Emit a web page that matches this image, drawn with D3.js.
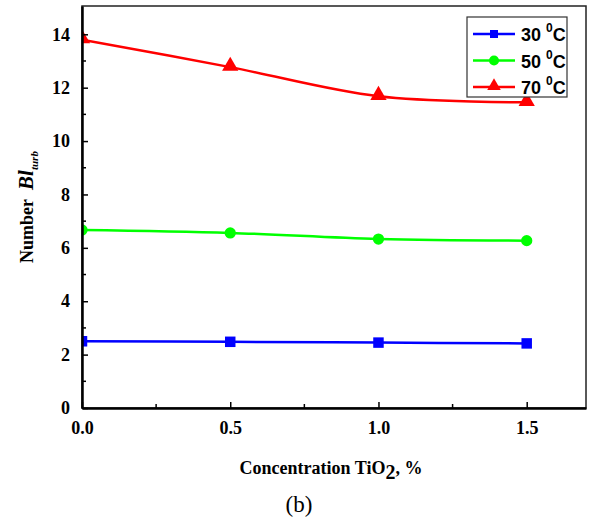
<!DOCTYPE html>
<html>
<head>
<meta charset="utf-8">
<script src="https://cdn.jsdelivr.net/npm/d3@7"></script>
<style>
  body { margin: 0; background: #fff; }
  svg { display: block; }
</style>
</head>
<body>
<svg id="chart" width="591" height="521"></svg>
<script>
// TiO2 concentration, %
const concentration = [0, 0.5, 1.0, 1.5];
// Bl_turb number at each temperature
const bl30 = [2.50, 2.48, 2.45, 2.42];
const bl50 = [6.67, 6.56, 6.33, 6.27];
const bl70 = [13.80, 12.77, 11.68, 11.45];
const seriesLabels = ["30", "50", "70"];
const xTicks = [0, 0.5, 1.0, 1.5];
const xMinorTicks = [0.25, 0.75, 1.25];
const yTicks = [0, 2, 4, 6, 8, 10, 12, 14];
const yMinorTicks = [1, 3, 5, 7, 9, 11, 13];

const series = [
  { name: seriesLabels[0], values: bl30, color: "#0000ff", shape: "square" },
  { name: seriesLabels[1], values: bl50, color: "#00ff00", shape: "circle" },
  { name: seriesLabels[2], values: bl70, color: "#ff0000", shape: "triangle" }
];

const svg = d3.select("#chart");
const plotLeft = 82, plotRight = 586, plotTop = 6, plotBottom = 408;

const x = d3.scaleLinear().domain([0, 1.7]).range([plotLeft, plotRight]);
const y = d3.scaleLinear().domain([0, 15.06]).range([plotBottom, plotTop]);

const serif = "'Liberation Serif', 'Times New Roman', serif";
const sans = "'Liberation Sans', Arial, sans-serif";

// clip data to the plot area
svg.append("defs").append("clipPath").attr("id", "plot-clip")
  .append("rect").attr("x", plotLeft).attr("y", plotTop)
  .attr("width", plotRight - plotLeft).attr("height", plotBottom - plotTop);

// frame
svg.append("rect").attr("x", plotLeft).attr("y", plotTop)
  .attr("width", plotRight - plotLeft).attr("height", plotBottom - plotTop)
  .attr("fill", "none").attr("stroke", "#222").attr("stroke-width", 1.5);

// data lines
const line = d3.line().x(d => x(d[0])).y(d => y(d[1])).curve(d3.curveCatmullRom.alpha(0.5));
const symbolFor = s => s === "square" ? d3.symbolSquare : s === "circle" ? d3.symbolCircle : d3.symbolTriangle;
const sizeFor = s => s === "square" ? 110 : s === "circle" ? 100 : 115;

const plotG = svg.append("g").attr("clip-path", "url(#plot-clip)");
series.forEach(s => {
  const pts = concentration.map((c, i) => [c, s.values[i]]);
  plotG.append("path").datum(pts).attr("d", line)
    .attr("fill", "none").attr("stroke", s.color).attr("stroke-width", 2.5);
  plotG.selectAll(null).data(pts).enter().append("path")
    .attr("transform", d => `translate(${x(d[0])},${y(d[1]) + (s.shape === "triangle" ? -1 : 0)})`)
    .attr("d", d3.symbol().type(symbolFor(s.shape)).size(sizeFor(s.shape)))
    .attr("fill", s.color);
});

// x axis (ticks point inward)
const xAxis = d3.axisBottom(x).tickValues(xTicks).tickSizeInner(-6).tickSizeOuter(0)
  .tickFormat(d3.format(".1f")).tickPadding(13);
const gx = svg.append("g").attr("transform", `translate(0,${plotBottom})`).call(xAxis);
gx.select(".domain").attr("stroke", "#000").attr("stroke-width", 2.5);
gx.selectAll(".tick line").attr("stroke", "#000").attr("stroke-width", 1.5);
gx.selectAll(".tick text").attr("font-family", serif).attr("font-weight", "bold")
  .attr("font-size", 18).attr("fill", "#000");
gx.selectAll(".minor").data(xMinorTicks).enter().append("line")
  .attr("x1", d => x(d)).attr("x2", d => x(d)).attr("y1", 0).attr("y2", -4)
  .attr("stroke", "#000").attr("stroke-width", 1.5);

// y axis
const yAxis = d3.axisLeft(y).tickValues(yTicks).tickSizeInner(-6).tickSizeOuter(0)
  .tickPadding(12);
const gy = svg.append("g").attr("transform", `translate(${plotLeft},0)`).call(yAxis);
gy.select(".domain").attr("stroke", "#000").attr("stroke-width", 2.5);
gy.selectAll(".tick line").attr("stroke", "#000").attr("stroke-width", 1.5);
gy.selectAll(".tick text").attr("font-family", serif).attr("font-weight", "bold")
  .attr("font-size", 18).attr("fill", "#000");
gy.selectAll(".minor").data(yMinorTicks).enter().append("line")
  .attr("y1", d => y(d)).attr("y2", d => y(d)).attr("x1", 0).attr("x2", 4)
  .attr("stroke", "#000").attr("stroke-width", 1.5);

// legend
const lg = svg.append("g");
lg.append("rect").attr("x", 467).attr("y", 17).attr("width", 100).attr("height", 80)
  .attr("fill", "#fff").attr("stroke", "#333").attr("stroke-width", 1.2);
series.forEach((s, i) => {
  const cy = 34 + i * 26.5;
  lg.append("line").attr("x1", 473).attr("x2", 515).attr("y1", cy).attr("y2", cy)
    .attr("stroke", s.color).attr("stroke-width", 2.5);
  lg.append("path").attr("transform", `translate(494,${cy + (s.shape === "triangle" ? -1 : 0)})`)
    .attr("d", d3.symbol().type(symbolFor(s.shape)).size(s.shape === "square" ? 64 : 80))
    .attr("fill", s.color);
  const t = lg.append("text").attr("x", 521).attr("y", cy + 7)
    .attr("font-family", sans).attr("font-weight", "bold").attr("font-size", 18).attr("fill", "#000");
  t.append("tspan").text(s.name + " ");
  t.append("tspan").attr("font-size", 12).attr("dy", -9).text("0");
  t.append("tspan").attr("dy", 9).text("C");
});

// axis titles
const yt = svg.append("text")
  .attr("transform", `translate(33,${(plotTop + plotBottom) / 2}) rotate(-90)`)
  .attr("text-anchor", "middle").attr("font-family", serif).attr("font-weight", "bold")
  .attr("font-size", 18).attr("fill", "#000");
yt.append("tspan").text("Number\u00a0\u00a0");
yt.append("tspan").attr("font-style", "italic").attr("font-size", 21).text("Bl");
yt.append("tspan").attr("font-style", "italic").attr("font-size", 11).attr("dy", 5).text("turb");

const xt = svg.append("text").attr("x", 331).attr("y", 474)
  .attr("text-anchor", "middle").attr("font-family", serif).attr("font-weight", "bold")
  .attr("font-size", 18).attr("fill", "#000");
xt.append("tspan").text("Concentration TiO");
xt.append("tspan").attr("dy", 5).attr("font-size", 20).text("2");
xt.append("tspan").attr("dy", -5).text(", %");

svg.append("text").attr("x", 299).attr("y", 512).attr("text-anchor", "middle")
  .attr("font-family", serif).attr("font-size", 23).attr("fill", "#000").text("(b)");
</script>
</body>
</html>
